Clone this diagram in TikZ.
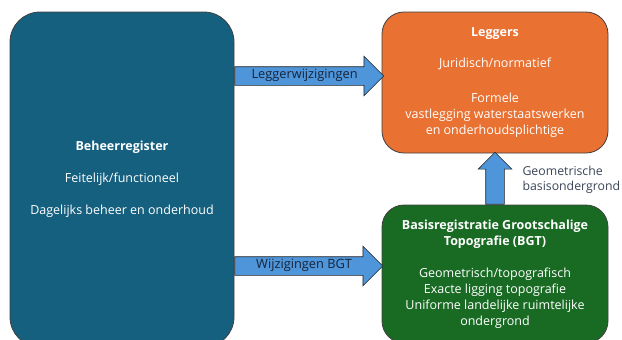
\documentclass[tikz,border=0pt]{standalone}
\usepackage{fontspec}
\setmainfont{Open Sans}
\usetikzlibrary{shapes.arrows, positioning}

\definecolor{beheerblue}{HTML}{15607F}
\definecolor{leggerorange}{HTML}{E97132}
\definecolor{bgtgreen}{HTML}{196B24}
\definecolor{arrowblue}{HTML}{4E95D9}
\definecolor{labeltext}{HTML}{17243A}

\tikzset{
  regbox/.style={draw=black!75, line width=0.8pt, rounded corners=22pt,
    text=white, align=center, font=\fontsize{12.5}{16}\selectfont},
  blockarrow/.style={single arrow, draw=black!85, fill=arrowblue, line width=0.7pt,
    single arrow head extend=10.5pt, minimum width=39pt, inner xsep=2pt,
    inner ysep=3.75pt, text height=8pt, text depth=2.5pt,
    text=labeltext, font=\fontsize{12.8}{14}\selectfont},
}

\begin{document}
\begin{tikzpicture}[x=1pt, y=-1pt]
    \useasboundingbox (0,0) rectangle (622,340);
    \clip (0,0) rectangle (622,340);
    % registers
    \node[regbox, fill=beheerblue, rounded corners=30pt, minimum width=224pt,
        minimum height=335pt] (beheer) at (122,179.5)
        {\textbf{Beheerregister}\\[16pt]Feitelijk/functioneel\\[16pt]Dagelijks beheer en onderhoud};
    \node[regbox, fill=leggerorange, minimum width=226pt, minimum height=141pt]
        (leggers) at (495,82.5)
        {\textbf{Leggers}\\[15pt]Juridisch/normatief\\[19pt]Formele\\vastlegging waterstaatswerken\\en onderhoudsplichtige};
    \node[regbox, fill=bgtgreen, minimum width=226pt, minimum height=138pt]
        (bgt) at (495,274)
        {\textbf{Basisregistratie Grootschalige}\\\textbf{Topografie (BGT)}\\[16pt]Geometrisch/topografisch\\Exacte ligging topografie\\Uniforme landelijke ruimtelijke\\ondergrond};
    % flows
    \node[blockarrow, anchor=tail, minimum height=149pt] (legflow)
        at (beheer.east |- 0,76) {Leggerwijzigingen};
    \node[blockarrow, anchor=tail, minimum height=148pt] (bgtflow)
        at (beheer.east |- 0,266) {Wijzigingen BGT};
    \node[blockarrow, anchor=tail, shape border rotate=90, minimum width=33pt,
        single arrow head extend=7.5pt, minimum height=52pt, inner xsep=9pt,
        inner ysep=9pt, text height=0pt, text depth=0pt] (geoflow)
        at (bgt.north) {};
    \node[anchor=west, align=left, text=labeltext!85,
        font=\fontsize{12.3}{15}\selectfont] (geolabel) at (519,180)
        {Geometrische\\basisondergrond};
\end{tikzpicture}
\end{document}
